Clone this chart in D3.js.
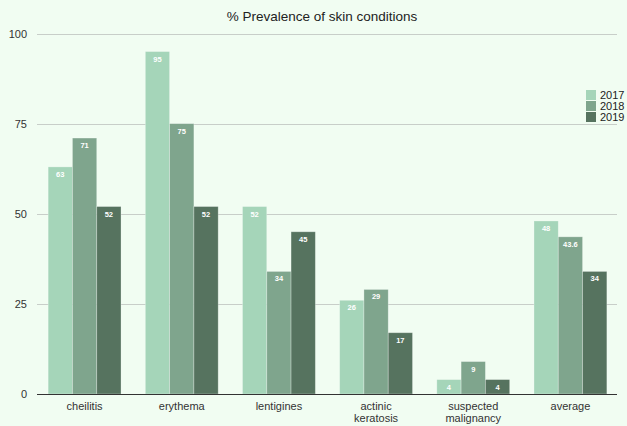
<!DOCTYPE html>
<html>
<head>
<meta charset="utf-8">
<script src="https://cdn.jsdelivr.net/npm/d3@7"></script>
<style>
  html, body { margin: 0; padding: 0; background: #f1fdf2; }
  svg { display: block; font-family: "Liberation Sans", Arial, Helvetica, sans-serif; }
</style>
</head>
<body>
<svg id="chart" width="627" height="426"></svg>
<script>
// Prevalence (%) of each skin condition per year
const categories = ["cheilitis", "erythema", "lentigines", "actinic\nkeratosis", "suspected\nmalignancy", "average"];
const years = ["2017", "2018", "2019"];
const values2017 = [63, 95, 52, 26, 4, 48];
const values2018 = [71, 75, 34, 29, 9, 43.6];
const values2019 = [52, 52, 45, 17, 4, 34];
const yTicks = [0, 25, 50, 75, 100];
const colors = ["#a5d5b9", "#7fa58d", "#56735f"];

const series = [values2017, values2018, values2019];

const svg = d3.select("#chart");

const x = d3.scaleBand().domain(categories).range([36, 619]).paddingInner(0).paddingOuter(0);
const y = d3.scaleLinear().domain([0, 100]).range([394, 33.5]);

// inner band for the three years inside each category
const xInner = d3.scaleBand().domain(years)
  .range([0, x.bandwidth()]).paddingInner(0).paddingOuter(0.5);

// title
svg.append("text")
  .attr("x", 322).attr("y", 21)
  .attr("text-anchor", "middle")
  .attr("font-size", 13.5)
  .attr("fill", "#222")
  .text("% Prevalence of skin conditions");

// gridlines + y labels
const grid = svg.append("g");
grid.selectAll("line").data(yTicks.filter(t => t > 0)).join("line")
  .attr("x1", 37).attr("x2", 617)
  .attr("y1", d => Math.round(y(d)) + 0.5).attr("y2", d => Math.round(y(d)) + 0.5)
  .attr("stroke", "#c8cec9").attr("stroke-width", 1);

const yAxis = svg.append("g").attr("transform", "translate(37,0)")
  .call(d3.axisLeft(y).tickValues(yTicks).tickSize(0).tickPadding(10));
yAxis.select(".domain").remove();
yAxis.selectAll("text").attr("font-size", 11).attr("fill", "#333")
  .attr("font-family", "Liberation Sans, Arial, sans-serif");

// bars
const groups = svg.append("g").selectAll("g").data(categories).join("g")
  .attr("transform", d => `translate(${x(d)},0)`);

groups.selectAll("rect")
  .data((c, i) => years.map((yr, k) => ({ yr, k, v: series[k][i] })))
  .join("rect")
  .attr("x", d => xInner(d.yr))
  .attr("width", xInner.bandwidth())
  .attr("y", d => y(d.v))
  .attr("height", d => y(0) - y(d.v))
  .attr("fill", d => colors[d.k])
  .attr("stroke", "rgba(255,255,255,0.35)")
  .attr("stroke-width", 0.8);

// value labels
groups.selectAll("text.val")
  .data((c, i) => years.map((yr, k) => ({ yr, k, v: series[k][i] })))
  .join("text")
  .attr("class", "val")
  .attr("x", d => xInner(d.yr) + xInner.bandwidth() / 2)
  .attr("y", d => y(d.v) + 10)
  .attr("text-anchor", "middle")
  .attr("font-size", 7.5)
  .attr("font-weight", "bold")
  .attr("fill", "#ffffff")
  .text(d => d.v);

// baseline
svg.append("line")
  .attr("x1", 37).attr("x2", 617)
  .attr("y1", 394.5).attr("y2", 394.5)
  .attr("stroke", "#333").attr("stroke-width", 1);

// x labels
const xl = svg.append("g").selectAll("text").data(categories).join("text")
  .attr("x", d => x(d) + x.bandwidth() / 2)
  .attr("y", 410)
  .attr("text-anchor", "middle")
  .attr("font-size", 11)
  .attr("fill", "#333");
xl.each(function(d) {
  const lines = d.split("\n");
  d3.select(this).selectAll("tspan").data(lines).join("tspan")
    .attr("x", x(d) + x.bandwidth() / 2)
    .attr("dy", (l, i) => i === 0 ? 0 : 12)
    .text(l => l);
});

// legend
const legend = svg.append("g").attr("transform", "translate(586,90)");
const li = legend.selectAll("g").data(years).join("g")
  .attr("transform", (d, i) => `translate(0,${i * 11})`);
li.append("rect").attr("width", 10).attr("height", 10)
  .attr("fill", (d, i) => colors[i]);
li.append("text").attr("x", 14).attr("y", 9)
  .attr("font-size", 11).attr("fill", "#222").text(d => d);
</script>
</body>
</html>
